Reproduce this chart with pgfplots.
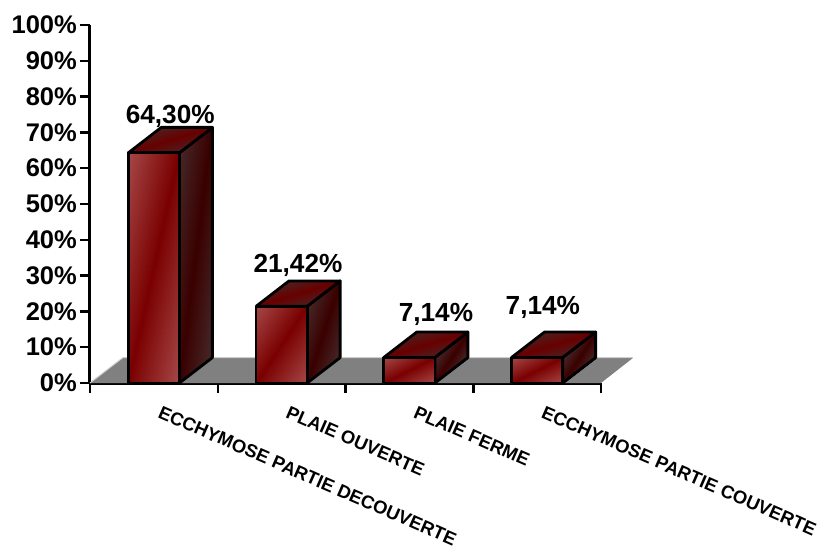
\documentclass[border=0pt]{standalone}
\usepackage{pgfplots}
\usepackage{fontspec}
\setmainfont{Liberation Sans}
\pgfplotsset{compat=1.18}

\pgfplotsset{
  colormap={frontmap}{rgb255(0pt)=(166,72,72); rgb255(1pt)=(122,0,0); rgb255(2pt)=(166,72,72)},
  colormap={sidemap}{rgb255(0pt)=(70,40,40); rgb255(1pt)=(58,0,0); rgb255(2pt)=(70,40,40)},
  colormap={roofmap}{rgb255(0pt)=(76,32,32); rgb255(1pt)=(104,0,0); rgb255(2pt)=(76,32,32)},
  barface/.style={patch,patch type=rectangle,shader=interp,point meta=explicit,colormap name=#1},
  outline/.style={draw=black,line width=2.8pt,line join=round},
}

\begin{document}
\begin{tikzpicture}
\useasboundingbox (-90pt,-166pt) rectangle (731pt,383pt);
\begin{axis}[
    scale only axis,
    width=511pt,
    height=358pt,
    xmin=0, xmax=4,
    ymin=0, ymax=100,
    point meta min=-1, point meta max=1,
    clip=false,
    axis lines=left,
    axis line style={-,line width=3pt,black},
    tick align=outside,
    xtick={0.5,1.5,2.5,3.5},
    xticklabels={ECCHYMOSE PARTIE DECOUVERTE,PLAIE OUVERTE,PLAIE FERME,ECCHYMOSE PARTIE COUVERTE},
    minor xtick={0,1,2,3,4},
    ytick={0,10,...,100},
    yticklabels={0\%,10\%,20\%,30\%,40\%,50\%,60\%,70\%,80\%,90\%,100\%},
    major tick length=10pt,
    minor tick length=10pt,
    y tick style={black,line width=2.5pt},
    major x tick style={draw=none},
    minor x tick style={draw=black,line width=2.5pt},
    yticklabel style={font=\fontsize{25.5}{25.5}\selectfont\bfseries,inner sep=0pt,xshift=-3pt},
    xticklabel style={font=\fontsize{18.4}{18.4}\selectfont\bfseries,rotate=-23.6,anchor=west,inner sep=0pt,xshift=12.5pt,yshift=-14.5pt},
]
% floor
\addplot[draw=none,fill=black!50] coordinates {(0,0) (4,0) (4.25,7) (0.258,7) (0,0)};
\addplot[draw=black!20,line width=1pt] coordinates {(0,0) (0.258,7.1) (4.25,7.1)};

% bar 1
\addplot[barface=sidemap] coordinates {(0.7,0) [0] (0.958,7.1) [1] (0.958,71.4) [0] (0.7,64.3) [-1]};
\addplot[outline] coordinates {(0.7,0) (0.958,7.1) (0.958,71.4) (0.7,64.3) (0.7,0)};
\addplot[barface=roofmap] coordinates {(0.3,64.3) [0] (0.7,64.3) [1] (0.958,71.4) [0] (0.558,71.4) [-1]};
\addplot[outline] coordinates {(0.3,64.3) (0.7,64.3) (0.958,71.4) (0.558,71.4) (0.3,64.3)};
\addplot[barface=frontmap] coordinates {(0.3,0) [0] (0.7,0) [1] (0.7,64.3) [0] (0.3,64.3) [-1]};
\addplot[outline] coordinates {(0.3,0) (0.7,0) (0.7,64.3) (0.3,64.3) (0.3,0)};
% bar 2
\addplot[barface=sidemap] coordinates {(1.7,0) [0] (1.958,7.1) [1] (1.958,28.52) [0] (1.7,21.42) [-1]};
\addplot[outline] coordinates {(1.7,0) (1.958,7.1) (1.958,28.52) (1.7,21.42) (1.7,0)};
\addplot[barface=roofmap] coordinates {(1.3,21.42) [0] (1.7,21.42) [1] (1.958,28.52) [0] (1.558,28.52) [-1]};
\addplot[outline] coordinates {(1.3,21.42) (1.7,21.42) (1.958,28.52) (1.558,28.52) (1.3,21.42)};
\addplot[barface=frontmap] coordinates {(1.3,0) [0] (1.7,0) [1] (1.7,21.42) [0] (1.3,21.42) [-1]};
\addplot[outline] coordinates {(1.3,0) (1.7,0) (1.7,21.42) (1.3,21.42) (1.3,0)};
% bar 3
\addplot[barface=sidemap] coordinates {(2.7,0) [0] (2.958,7.1) [1] (2.958,14.24) [0] (2.7,7.14) [-1]};
\addplot[outline] coordinates {(2.7,0) (2.958,7.1) (2.958,14.24) (2.7,7.14) (2.7,0)};
\addplot[barface=roofmap] coordinates {(2.3,7.14) [0] (2.7,7.14) [1] (2.958,14.24) [0] (2.558,14.24) [-1]};
\addplot[outline] coordinates {(2.3,7.14) (2.7,7.14) (2.958,14.24) (2.558,14.24) (2.3,7.14)};
\addplot[barface=frontmap] coordinates {(2.3,0) [0] (2.7,0) [1] (2.7,7.14) [0] (2.3,7.14) [-1]};
\addplot[outline] coordinates {(2.3,0) (2.7,0) (2.7,7.14) (2.3,7.14) (2.3,0)};
% bar 4
\addplot[barface=sidemap] coordinates {(3.7,0) [0] (3.958,7.1) [1] (3.958,14.24) [0] (3.7,7.14) [-1]};
\addplot[outline] coordinates {(3.7,0) (3.958,7.1) (3.958,14.24) (3.7,7.14) (3.7,0)};
\addplot[barface=roofmap] coordinates {(3.3,7.14) [0] (3.7,7.14) [1] (3.958,14.24) [0] (3.558,14.24) [-1]};
\addplot[outline] coordinates {(3.3,7.14) (3.7,7.14) (3.958,14.24) (3.558,14.24) (3.3,7.14)};
\addplot[barface=frontmap] coordinates {(3.3,0) [0] (3.7,0) [1] (3.7,7.14) [0] (3.3,7.14) [-1]};
\addplot[outline] coordinates {(3.3,0) (3.7,0) (3.7,7.14) (3.3,7.14) (3.3,0)};

\node[font=\fontsize{26.2}{26.2}\selectfont\bfseries] at (axis cs:0.628,74.4) {64,30\%};
\node[font=\fontsize{26.2}{26.2}\selectfont\bfseries] at (axis cs:1.628,32.8) {21,42\%};
\node[font=\fontsize{26.2}{26.2}\selectfont\bfseries] at (axis cs:2.708,19.1) {7,14\%};
\node[font=\fontsize{26.2}{26.2}\selectfont\bfseries] at (axis cs:3.545,21.0) {7,14\%};
\end{axis}
\end{tikzpicture}
\end{document}
